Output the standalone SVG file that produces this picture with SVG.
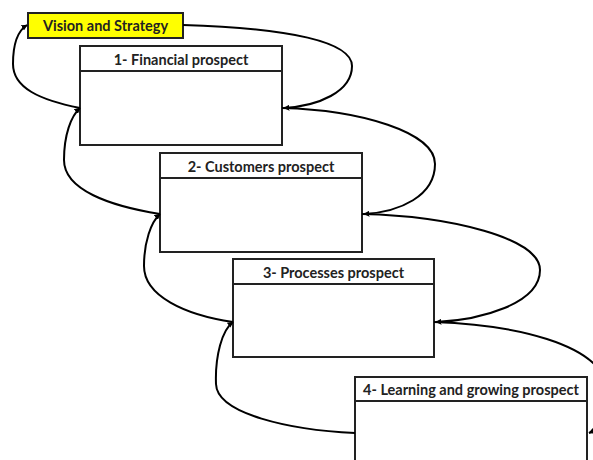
<svg xmlns="http://www.w3.org/2000/svg" width="593" height="460" viewBox="0 0 593 460">
<style>
.box{fill:#fff;stroke:#222;stroke-width:2}
.vis{fill:#ffff00;stroke:#222;stroke-width:2}
.div{stroke:#222;stroke-width:2}
.t{font-family:Lato,"Open Sans",sans-serif;font-weight:bold;font-size:14.5px;fill:#222;text-anchor:middle}
.c{fill:none;stroke:#000;stroke-width:2}
</style>
<defs>
<marker id="ah" viewBox="0 0 10 10" refX="9" refY="5" markerWidth="6" markerHeight="6" markerUnits="userSpaceOnUse" orient="auto">
<path d="M0,0 L10,5 L0,10 Z" fill="#000"/>
</marker>
</defs>
<rect width="593" height="460" fill="#fff"/>
<g id="vision">
<rect class="vis" x="28" y="13" width="155" height="25"/>
<text class="t" x="105.5" y="31">Vision and Strategy</text>
</g>
<g id="financial">
<rect class="box" x="80" y="46" width="202" height="99"/>
<line class="div" x1="80" y1="71" x2="282" y2="71"/>
<text class="t" x="181" y="65">1- Financial prospect</text>
</g>
<g id="customers">
<rect class="box" x="160" y="153" width="202" height="99"/>
<line class="div" x1="160" y1="178" x2="362" y2="178"/>
<text class="t" x="261" y="172">2- Customers prospect</text>
</g>
<g id="processes">
<rect class="box" x="233" y="259" width="201" height="98"/>
<line class="div" x1="233" y1="284" x2="434" y2="284"/>
<text class="t" x="333.5" y="278">3- Processes prospect</text>
</g>
<g id="learning">
<rect class="box" x="355" y="377" width="232" height="100"/>
<line class="div" x1="355" y1="401" x2="587" y2="401"/>
<text class="t" x="471" y="395">4- Learning and growing prospect</text>
</g>
<g id="connectors">
<path class="c" marker-end="url(#ah)" d="M183,25 C290,28 352,42 352,66 C352,92 318,106 284,108"/>
<path class="c" marker-end="url(#ah)" d="M282,108 C360,110 435,132 435,164 C435,196 400,212 364,214"/>
<path class="c" marker-end="url(#ah)" d="M362,214 C450,216 540,238 540,270 C540,304 480,320 436,322"/>
<path class="c" marker-end="url(#ah)" d="M434,322 C520,325 592,345 605,380 C613,408 600,428 589,433"/>
<path class="c" marker-end="url(#ah)" d="M80,108 C40,100 13,88 13,64 C13,42 19,30 27,25"/>
<path class="c" marker-end="url(#ah)" d="M160,214 C110,206 64,190 64,160 C64,135 71,116 80,108"/>
<path class="c" marker-end="url(#ah)" d="M233,322 C185,315 144,296 144,266 C144,242 151,222 160,214"/>
<path class="c" marker-end="url(#ah)" d="M355,433 C290,430 217,414 216,384 C215,356 222,330 233,322"/>
</g>
</svg>
